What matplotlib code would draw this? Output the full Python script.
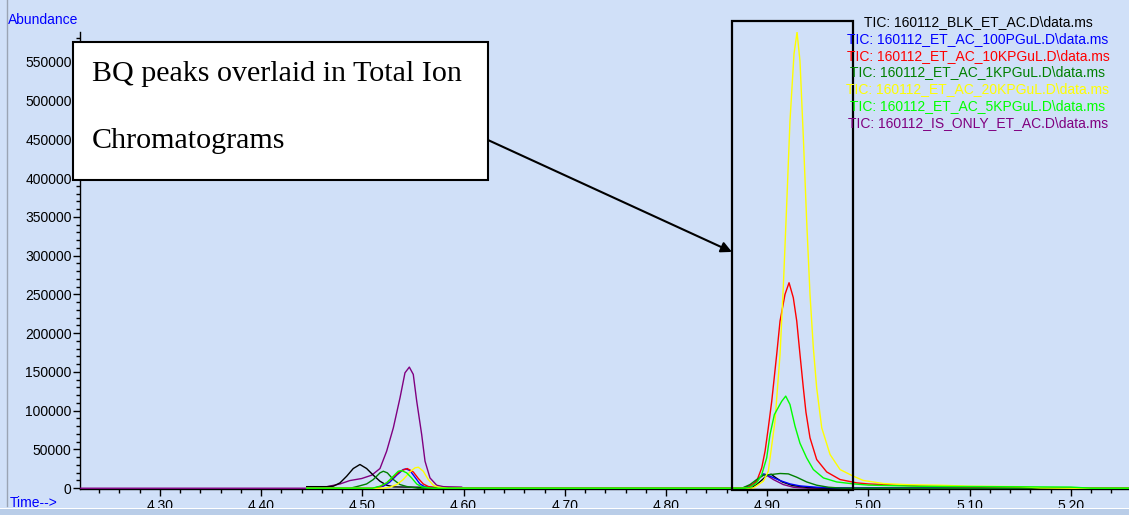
import matplotlib
matplotlib.use("Agg")
import matplotlib.pyplot as plt
from matplotlib.patches import Rectangle
from matplotlib.lines import Line2D
from matplotlib.ticker import MultipleLocator, FormatStrFormatter

plt.rcParams["font.family"] = ["Liberation Sans", "DejaVu Sans"]

# ── Data (retention time in min, abundance) ─────────
labels = [
    r"TIC: 160112_BLK_ET_AC.D\data.ms",
    r"TIC: 160112_ET_AC_100PGuL.D\data.ms",
    r"TIC: 160112_ET_AC_10KPGuL.D\data.ms",
    r"TIC: 160112_ET_AC_1KPGuL.D\data.ms",
    r"TIC: 160112_ET_AC_20KPGuL.D\data.ms",
    r"TIC: 160112_ET_AC_5KPGuL.D\data.ms",
    r"TIC: 160112_IS_ONLY_ET_AC.D\data.ms",
]
colors = ["#000000", "#0000FF", "#FF0000", "#008000", "#FFFF00", "#00FF00", "#800080"]

blk_t = [4.445, 4.465, 4.4713, 4.4779, 4.4845, 4.491, 4.4976, 4.5042, 4.5108, 4.5174,
         4.524, 4.531, 4.56, 4.58, 4.60, 4.86, 4.884, 4.890, 4.896, 4.900, 4.904,
         4.908, 4.915, 4.925, 4.94, 4.96, 5.26]
blk_y = [2000, 2000, 2600, 6900, 15500, 25400, 30600, 25400, 16800, 9000,
         3900, 1700, 1200, 800, 0, 0, 0, 5000, 12000, 17000, 18000,
         14000, 8000, 3500, 1000, 0, 0]

pg100_t = [4.445, 4.51, 4.5207, 4.5273, 4.5339, 4.5404, 4.5431, 4.547, 4.552, 4.5569,
           4.5619, 4.575, 4.880, 4.8863, 4.8912, 4.8962, 4.9028, 4.9127, 4.9225, 4.9324,
           4.9489, 4.965, 4.98, 5.26]
pg100_y = [0, 0, 2600, 8100, 16800, 24100, 24900, 22800, 14200, 5500,
           1700, 0, 0, 3900, 11200, 18500, 15500, 9900, 5600, 3000,
           1300, 500, 0, 0]

kpg10_t = [4.445, 4.51, 4.5174, 4.524, 4.5306, 4.5372, 4.5444, 4.5503, 4.5553, 4.5602,
           4.5651, 4.575, 4.880, 4.8896, 4.8946, 4.8979, 4.9011, 4.9045, 4.9094, 4.9127,
           4.9176, 4.9216, 4.9258, 4.9292, 4.9324, 4.9357, 4.9383, 4.9423, 4.9489, 4.9588,
           4.972, 4.9884, 5.00, 5.02, 5.05, 5.10, 5.14, 5.16, 5.26]
kpg10_y = [0, 0, 1700, 6900, 14200, 21900, 25400, 21000, 12500, 5500,
           2200, 0, 0, 9000, 26200, 47800, 77900, 112300, 172600, 215600,
           250000, 265000, 245700, 215600, 172600, 129500, 98000, 65000, 37000, 21000,
           11200, 6900, 5500, 4500, 3000, 1500, 1500, 0, 0]

kpg1_t = [4.445, 4.488, 4.496, 4.5042, 4.5108, 4.5174, 4.5207, 4.5247, 4.5306, 4.5372,
          4.5438, 4.555, 4.875, 4.883, 4.8896, 4.8962, 4.9028, 4.9127, 4.9209, 4.9292,
          4.939, 4.9489, 4.9604, 4.975, 5.26]
kpg1_y = [0, 0, 2600, 5500, 11200, 19800, 21900, 19800, 11200, 4700,
          2200, 0, 0, 4700, 11200, 16800, 17500, 19000, 18500, 14200,
          8100, 3900, 1300, 0, 0]

kpg20_t = [4.445, 4.52, 4.5273, 4.5339, 4.5404, 4.547, 4.552, 4.5553, 4.5602, 4.5651,
           4.5701, 4.575, 4.585, 4.880, 4.8863, 4.8962, 4.9011, 4.9077, 4.9127, 4.9159,
           4.9193, 4.9225, 4.9265, 4.9295, 4.9324, 4.9357, 4.939, 4.9423, 4.9456, 4.9489,
           4.9539, 4.9621, 4.972, 4.9851, 4.995, 5.015, 5.04, 5.07, 5.10, 5.15,
           5.17, 5.20, 5.26]
kpg20_y = [0, 0, 1300, 4700, 11200, 21000, 26200, 27100, 21900, 11200,
           3900, 1300, 0, 0, 400, 9000, 21900, 86500, 172600, 258600,
           366600, 473000, 560000, 588000, 551000, 453000, 345000, 250000, 181000, 129500,
           77900, 43500, 24100, 15500, 10000, 6000, 4500, 3900, 2600, 2000,
           500, 0, 0]

kpg5_t = [4.445, 4.51, 4.5174, 4.524, 4.5306, 4.5355, 4.5388, 4.5438, 4.5487, 4.5537,
          4.5586, 4.57, 4.878, 4.883, 4.8896, 4.8946, 4.8995, 4.9028, 4.9071, 4.9143,
          4.9183, 4.9225, 4.9275, 4.9324, 4.939, 4.9456, 4.9555, 4.9687, 4.9851, 5.00,
          5.05, 5.20, 5.22, 5.26]
kpg5_y = [0, 0, 2600, 6900, 15500, 21900, 22800, 19800, 13300, 5500,
          1700, 0, 0, 1300, 6900, 17600, 39100, 69300, 95000, 112000,
          118800, 108000, 80000, 58000, 39100, 24100, 13300, 8100, 5600, 4000,
          2500, 1500, 0, 0]

is_t = [4.22, 4.455, 4.465, 4.4779, 4.4877, 4.4993, 4.5092, 4.5174, 4.524, 4.5306,
        4.5372, 4.5421, 4.5464, 4.5503, 4.5537, 4.5586, 4.5619, 4.5668, 4.5734, 4.58,
        4.598, 4.60, 4.875, 4.8863, 4.8929, 4.8979, 4.9061, 4.9159, 4.9258, 4.94, 5.26]
is_y = [0, 0, 2000, 5500, 9900, 12500, 16800, 25400, 47800, 77900,
        116600, 148800, 156200, 146800, 112300, 69300, 34900, 13300, 3900, 2000,
        1500, 0, 0, 4700, 14200, 18000, 11200, 4700, 1300, 0, 0]

traces = [(blk_t, blk_y), (pg100_t, pg100_y), (kpg10_t, kpg10_y), (kpg1_t, kpg1_y),
          (kpg20_t, kpg20_y), (kpg5_t, kpg5_y), (is_t, is_y)]

# ── Figure ───────────────────────────────────────────────────────────────────
BG = "#D0E0F8"
W, H = 1129, 515

def fx(px): return px / W
def fy(py): return 1 - py / H

fig = plt.figure(figsize=(W / 100, H / 100), dpi=100, facecolor=BG)
ax = fig.add_axes([fx(80), fy(489), fx(1129) - fx(80), fy(31.7) - fy(489)], facecolor=BG)

# IS_ONLY first so the other baselines sit over it
order = [6, 0, 1, 2, 3, 4, 5]
for k in order:
    t, y = traces[k]
    ax.plot(t, y, color=colors[k], lw=1.0, zorder=3)

ax.set_xlim(4.221, 5.2575)
ax.set_ylim(-1000, 588700)

ax.xaxis.set_major_locator(MultipleLocator(0.1))
ax.xaxis.set_minor_locator(MultipleLocator(0.02))
ax.xaxis.set_major_formatter(FormatStrFormatter("%.2f"))
ax.yaxis.set_major_locator(MultipleLocator(50000))
ax.yaxis.set_minor_locator(MultipleLocator(10000))
ax.yaxis.set_major_formatter(FormatStrFormatter("%d"))
ax.tick_params(which="major", direction="out", length=5, width=1, labelsize=10, pad=2)
ax.tick_params(which="minor", direction="out", length=3, width=1)
ax.tick_params(axis="y", pad=1)

for s in ["top", "right"]:
    ax.spines[s].set_visible(False)
for s in ["left", "bottom"]:
    ax.spines[s].set_linewidth(1)

# highlight box around the BQ peaks + arrow
ax.add_patch(Rectangle((4.865, -2200), 0.1198, 604700, fill=False, ec="black",
                       lw=1.6, clip_on=False, zorder=5))
ax.annotate("", xy=(4.8652, 304700), xytext=(4.624, 449100),
            arrowprops=dict(arrowstyle="-|>", color="black", lw=1.5,
                            mutation_scale=16, shrinkA=0, shrinkB=0),
            annotation_clip=False, zorder=6)

# call-out text box
fig.add_artist(Rectangle((fx(73), fy(180)), fx(488) - fx(73), fy(42) - fy(180),
                         transform=fig.transFigure, fc="white", ec="black",
                         lw=1.5, zorder=10))
fig.text(fx(92), fy(80.7), "BQ peaks overlaid in Total Ion", family="Liberation Serif",
         fontsize=21.6, va="baseline", zorder=11)
fig.text(fx(92), fy(148.3), "Chromatograms", family="Liberation Serif",
         fontsize=21.6, va="baseline", zorder=11)

# file legend
leg_y = [22.3, 39, 55.8, 72.5, 89.3, 106.3, 123.3]
for lab, c, yy in zip(labels, colors, leg_y):
    fig.text(fx(978), fy(yy), lab, ha="center", va="center", color=c, fontsize=10, zorder=12)

fig.text(fx(8), fy(20), "Abundance", color="#0000FF", fontsize=10, va="center")
fig.text(fx(10), fy(503), "Time-->", color="#0000FF", fontsize=10, va="center")

# window chrome: left rule and bottom strip
fig.add_artist(Line2D([fx(7), fx(7)], [fy(506), 1], transform=fig.transFigure,
                      color="#9AA4B4", lw=1, zorder=15))
fig.add_artist(Rectangle((0, 0), 1, fy(509.3), transform=fig.transFigure,
                         fc="#B9CDE8", ec="none", zorder=20))
fig.add_artist(Rectangle((0, fy(509.3)), 1, fy(507.7) - fy(509.3), transform=fig.transFigure,
                         fc="white", ec="none", zorder=20))

fig.savefig("out.png", dpi=100, facecolor=BG)
